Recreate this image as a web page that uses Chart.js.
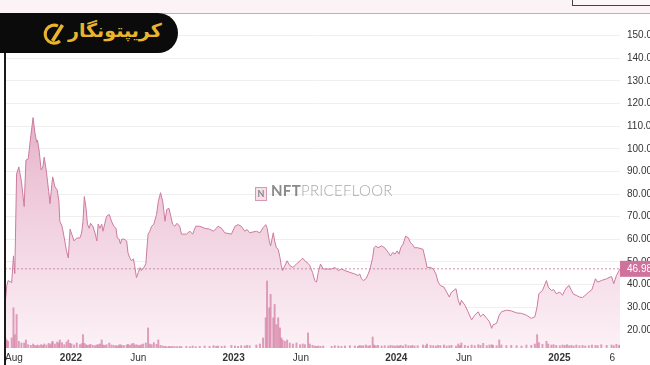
<!DOCTYPE html>
<html>
<head>
<meta charset="utf-8">
<script src="https://cdn.jsdelivr.net/npm/chart.js@4"></script>
<style>
html,body{margin:0;padding:0;background:#fff;}
#wrap{position:relative;width:650px;height:365px;overflow:hidden;}
#chart{position:absolute;left:0;top:0;}
.strip{position:absolute;left:0;top:0;width:650px;height:13px;background:#fcf3f7;border-bottom:1px solid #b9b3b6;}
.box{position:absolute;left:572px;top:-3px;width:80px;height:7px;border:1px solid #444;background:#fdf6f9;}
.edge{position:absolute;left:4px;top:50px;width:2px;height:315px;background:#1a1a1a;}
.banner{position:absolute;left:0;top:13px;width:178px;height:40px;background:#0b0b0b;border-radius:0 20px 20px 0;}
.brand{position:absolute;left:68px;top:6px;font:bold 19px "DejaVu Sans",sans-serif;color:#e9b52e;direction:rtl;white-space:nowrap;}
.icon{position:absolute;left:43px;top:8px;}
.wm{position:absolute;left:255px;top:181px;font:300 15px Lato,sans-serif;color:#a9a9a9;letter-spacing:0.3px;white-space:nowrap;}
.wm b{font-weight:700;color:#8a8a8a;}
.wm .logo{display:inline-block;width:10px;height:12px;border:1px solid #d59ab4;background:#f6e1ea;color:#888;font:bold 9px Lato,sans-serif;text-align:center;line-height:12px;margin-right:4px;vertical-align:-1px;}
</style>
</head>
<body>
<div id="wrap">
  <canvas id="chart" width="650" height="365"></canvas>
  <div class="strip"><div class="box"></div></div>
  <div class="edge"></div>
  <div class="banner">
    <svg class="icon" width="24" height="26" viewBox="0 0 24 26">
      <path d="M15 5 A9 9 0 1 0 17 20" fill="none" stroke="#e9b52e" stroke-width="3"/>
      <path d="M8 19 L18 3 L21 5 L11 21 Z" fill="#e9b52e"/>
    </svg>
    <div class="brand">کریپتونگار</div>
  </div>
  <div class="wm"><span class="logo">N</span><b>NFT</b>PRICEFLOOR</div>
</div>
<script>
const dates = [
  '2021-08-07','2021-08-10','2021-08-13','2021-08-21','2021-08-25','2021-08-28','2021-09-01','2021-09-06','2021-09-12','2021-09-18',
  '2021-09-22','2021-09-27','2021-10-03','2021-10-08','2021-10-12','2021-10-16','2021-10-18','2021-10-22','2021-10-26','2021-10-30',
  '2021-11-02','2021-11-07','2021-11-12','2021-11-15','2021-11-19','2021-11-21','2021-11-26','2021-12-01','2021-12-05','2021-12-07',
  '2021-12-12','2021-12-17','2021-12-22','2021-12-26','2021-12-30',
  '2022-01-02','2022-01-08','2022-01-14','2022-01-21','2022-01-25','2022-01-28','2022-01-31','2022-02-04','2022-02-07','2022-02-11',
  '2022-02-14','2022-02-19','2022-02-24','2022-02-28','2022-03-03','2022-03-07','2022-03-11','2022-03-14','2022-03-18','2022-03-22',
  '2022-03-28','2022-04-02','2022-04-07','2022-04-12','2022-04-15','2022-04-19','2022-04-22','2022-04-25','2022-04-30','2022-05-06',
  '2022-05-09','2022-05-13','2022-05-17','2022-05-21','2022-05-24','2022-05-28','2022-06-01','2022-06-05','2022-06-08','2022-06-12',
  '2022-06-18','2022-06-23','2022-06-27','2022-07-01','2022-07-06','2022-07-12','2022-07-16','2022-07-21','2022-07-26','2022-07-31',
  '2022-08-04','2022-08-09','2022-08-13','2022-08-17','2022-08-22','2022-08-27','2022-09-02','2022-09-06','2022-09-17','2022-09-25',
  '2022-10-01','2022-10-08','2022-10-17','2022-10-28','2022-11-08','2022-11-17','2022-11-23','2022-11-27','2022-12-05','2022-12-12',
  '2022-12-27',
  '2023-01-04','2023-01-11','2023-01-18','2023-01-26','2023-01-31','2023-02-06','2023-02-21','2023-03-01','2023-03-08','2023-03-14',
  '2023-03-17','2023-03-22','2023-03-25','2023-03-31','2023-04-03','2023-04-07','2023-04-11','2023-04-15','2023-04-18','2023-04-21',
  '2023-04-26','2023-05-01','2023-05-07','2023-05-14','2023-05-22','2023-05-30','2023-06-05','2023-06-10','2023-06-17','2023-06-21',
  '2023-06-27','2023-07-02','2023-07-06','2023-07-10','2023-07-15','2023-07-21','2023-08-09','2023-08-16','2023-08-24','2023-08-31',
  '2023-09-08','2023-09-19','2023-09-30','2023-10-07','2023-10-11','2023-10-15','2023-10-19','2023-10-25','2023-10-30','2023-11-03',
  '2023-11-09','2023-11-12','2023-11-16','2023-11-21','2023-11-29','2023-12-06','2023-12-14','2023-12-19','2023-12-24','2023-12-29',
  '2024-01-03','2024-01-07','2024-01-11','2024-01-16','2024-01-22','2024-01-28','2024-02-02','2024-02-06','2024-02-11','2024-02-18',
  '2024-03-01','2024-03-07','2024-03-10','2024-03-18','2024-03-24','2024-03-30','2024-04-04','2024-04-09','2024-04-17','2024-04-23',
  '2024-04-29','2024-05-04','2024-05-14','2024-05-19','2024-05-23','2024-05-26','2024-06-03','2024-06-10','2024-06-18','2024-06-25',
  '2024-07-03','2024-07-08','2024-07-14','2024-07-22','2024-07-28','2024-08-02','2024-08-05','2024-08-13','2024-08-19','2024-08-24',
  '2024-09-04','2024-09-15','2024-09-27','2024-10-08','2024-10-19','2024-10-30','2024-11-07','2024-11-12','2024-11-16','2024-11-24',
  '2024-12-03','2024-12-07','2024-12-14','2024-12-19','2024-12-25',
  '2025-01-02','2025-01-08','2025-01-13','2025-01-18','2025-01-23','2025-01-28','2025-02-02','2025-02-08','2025-02-15','2025-02-22',
  '2025-02-28','2025-03-08','2025-03-15','2025-03-23','2025-03-28','2025-04-05','2025-04-17','2025-04-28','2025-05-03','2025-05-09',
  '2025-05-15','2025-05-17'
];

const floorPrice = [
  33.1,39.6,41.8,40.9,52.7,44.9,88.9,92.0,85.4,74.5,
  95.0,95.5,105.9,113.8,107.3,102.9,103.8,98.5,90.7,92.0,
  96.3,89.8,81.1,75.8,84.1,87.6,83.2,81.9,76.7,68.0,
  65.8,60.6,54.9,51.8,64.5,
  62.8,59.3,60.6,60.6,62.8,68.0,78.9,73.7,66.7,64.9,
  67.1,65.8,62.8,59.3,66.7,64.9,66.7,63.6,67.1,70.2,
  71.0,68.0,65.8,64.9,60.6,60.1,58.0,60.1,60.1,59.3,
  54.0,51.8,50.5,51.4,48.4,43.1,45.3,47.5,46.2,47.0,
  49.2,62.3,63.6,65.8,66.7,71.0,76.7,80.6,76.7,68.0,
  73.2,73.7,70.2,66.7,65.8,67.1,65.8,62.3,62.3,63.6,
  62.3,65.8,65.8,64.9,64.5,63.6,64.9,65.8,64.9,62.9,
  62.3,
  65.8,66.5,65.8,63.6,64.4,62.9,63.6,62.9,65.1,66.5,
  65.1,59.3,57.1,62.9,59.3,56.3,55.6,52.0,48.4,46.2,
  48.4,50.5,48.4,47.6,49.1,50.5,51.7,50.5,49.4,48.4,
  45.4,41.8,41.1,45.4,49.1,46.9,46.9,47.6,46.2,46.9,
  46.2,45.4,44.7,44.0,44.7,42.6,41.8,42.6,44.7,46.9,
  52.0,56.3,57.1,56.3,57.1,56.3,54.2,52.7,54.2,53.5,
  54.9,53.5,56.3,57.8,61.4,60.7,58.5,57.8,56.3,56.3,
  55.6,50.5,47.6,47.6,46.9,44.7,41.1,39.6,38.9,36.7,
  34.5,36.7,38.2,33.1,30.9,33.1,30.9,28.0,24.4,26.5,
  28.0,25.8,27.0,25.1,23.6,20.7,22.2,22.9,26.5,28.0,
  28.7,28.4,27.5,27.3,26.5,25.1,25.8,30.2,36.0,37.4,
  41.8,38.9,37.4,37.8,36.0,
  36.7,35.3,37.4,38.9,39.6,37.4,35.7,35.3,34.5,34.3,
  35.3,36.7,37.8,42.6,41.1,41.8,42.6,43.6,40.4,44.0,
  46.2,46.98
];

const volume = [
  3,2.4,2,3,12,4,10,2,1.5,1.5,
  2.4,1,0.8,1.2,0.8,0.6,0.9,0.7,1,0.8,
  1.2,0.9,1.4,1,1.6,2,1.2,1.8,1.5,2.4,
  1.6,1,1.8,2.4,1.4,
  1.2,0.9,1.5,1,1.3,4,1.4,1,0.8,0.9,
  1.1,0.8,0.7,0.9,1,1.2,2.4,0.9,0.8,1,
  1.5,0.9,0.8,0.7,0.6,0.9,1,0.8,0.7,0.9,
  1.1,0.8,1.2,1.4,0.9,1,0.8,0.7,1,1.2,
  1.5,6,1.2,1,1.6,1.1,2.4,0.8,0.6,0.5,
  0.4,0.5,0.4,0.5,0.4,0.4,0.5,0.4,0.5,0.4,
  0.6,0.4,0.5,0.6,0.5,0.7,0.5,0.6,0.5,0.6,
  0.8,
  0.6,0.5,0.7,0.6,0.8,0.7,0.9,1.2,3,9,
  20,12,16,9,13,7,9,6,3,2.4,
  2,2.4,1.5,1.2,1.5,1,1.2,1,4.5,1.2,
  0.8,0.6,0.5,0.6,0.5,0.6,0.5,0.7,0.6,0.5,
  0.6,0.7,0.6,0.5,0.8,0.6,0.7,0.9,0.6,0.7,
  3.3,0.9,0.7,0.8,0.6,0.7,0.6,0.8,0.7,0.6,
  0.7,0.6,0.8,0.6,1,0.7,0.6,0.8,0.6,0.7,
  0.9,0.7,1.2,0.8,0.7,0.6,0.8,0.7,0.9,0.6,
  0.7,0.8,0.6,1.2,0.7,1.5,0.8,0.6,0.9,0.7,
  1,0.8,1.4,0.7,0.9,1,0.8,0.7,2.4,0.9,
  0.7,0.8,0.7,0.6,0.9,0.8,1.2,4,1.6,1.1,
  2,1.2,0.9,1,0.8,
  0.7,0.9,0.8,1,0.7,0.8,0.6,0.9,0.7,0.8,
  0.6,0.7,0.9,0.8,0.7,1,0.8,0.9,0.7,1.1,
  0.8,0.9
];

const yTicks = [20,30,40,50,60,70,80,90,100,110,120,130,140,150];
const xTickDates = ['2021-08-06','2022-01-01','2022-06-01','2023-01-01','2023-06-01','2024-01-01','2024-06-01','2025-01-01','2025-05-06'];
const xTickLabels = ['Aug','2022','Jun','2023','Jun','2024','Jun','2025','6'];
const xTickBold = [false,true,false,true,false,true,false,true,false];
const lastPrice = 46.98;

const DAY = 86400000;
const base = Date.UTC(2021, 7, 1);
function toDay(s){
  const [y, m, d] = s.split('-').map(Number);
  return (Date.UTC(y, m - 1, d) - base) / DAY;
}

const lastPricePlugin = {
  id: 'lastPrice',
  afterDatasetsDraw(chart){
    const {ctx, chartArea, scales} = chart;
    const y = scales.y.getPixelForValue(lastPrice);
    ctx.save();
    ctx.strokeStyle = 'rgba(196,120,150,0.8)';
    ctx.lineWidth = 1;
    ctx.setLineDash([2, 2]);
    ctx.beginPath();
    ctx.moveTo(chartArea.left, y);
    ctx.lineTo(chartArea.right, y);
    ctx.stroke();
    ctx.setLineDash([]);
    ctx.fillStyle = '#d0739c';
    ctx.fillRect(chartArea.right, y - 8, chart.width - chartArea.right, 16);
    ctx.fillStyle = '#fff';
    ctx.font = '10px "Liberation Sans", Arial, sans-serif';
    ctx.textBaseline = 'middle';
    ctx.fillText(lastPrice.toFixed(2), chartArea.right + 7, y + 0.5);
    ctx.restore();
  }
};

const ctx = document.getElementById('chart').getContext('2d');
new Chart(ctx, {
  data: {
    datasets: [{
      type: 'bar',
      data: dates.map((d, i) => ({x: toDay(d), y: volume[i]})),
      yAxisID: 'yv',
      backgroundColor: 'rgba(214,128,165,0.75)',
      barThickness: 1.3,
      order: 0
    }, {
      type: 'line',
      data: dates.map((d, i) => ({x: toDay(d), y: floorPrice[i]})),
      yAxisID: 'y',
      borderColor: '#cc7b9f',
      borderWidth: 1,
      pointRadius: 0,
      tension: 0,
      fill: 'start',
      backgroundColor: (c) => {
        const area = c.chart.chartArea;
        if(!area) return 'rgba(230,180,200,0.5)';
        const g = c.chart.ctx.createLinearGradient(0, area.top, 0, area.bottom);
        g.addColorStop(0, '#d98db0');
        g.addColorStop(0.5, '#edc6d7');
        g.addColorStop(1, '#fcf1f6');
        return g;
      },
      order: 1
    }]
  },
  options: {
    responsive: false,
    animation: false,
    layout: { padding: { left: 5, top: 9, right: 0, bottom: 0 } },
    plugins: { legend: { display: false }, tooltip: { enabled: false } },
    scales: {
      x: {
        type: 'linear',
        offset: false,
        min: toDay('2021-08-06'),
        max: toDay('2025-05-17'),
        grid: { display: false, drawTicks: false },
        border: { display: false },
        afterFit: (s) => { s.height = 17; },
        afterBuildTicks: (s) => { s.ticks = xTickDates.map(d => ({value: toDay(d)})); },
        ticks: {
          autoSkip: false,
          maxRotation: 0,
          padding: 4,
          align: 'inner',
          color: '#333',
          font: (c) => ({family: '"Liberation Sans", Arial, sans-serif', size: 10, weight: xTickBold[c.index] ? 'bold' : 'normal'}),
          callback: (v, i) => xTickLabels[i]
        }
      },
      y: {
        position: 'right',
        min: 12,
        max: 160,
        grid: { color: '#f0eeef', drawTicks: false },
        border: { display: false },
        afterFit: (s) => { s.width = 30; },
        afterBuildTicks: (s) => { s.ticks = yTicks.map(v => ({value: v})); },
        ticks: {
          padding: 7,
          color: '#333',
          font: { family: '"Liberation Sans", Arial, sans-serif', size: 10 },
          callback: (v) => Number(v).toFixed(2)
        }
      },
      yv: {
        display: false,
        min: 0,
        max: 100
      }
    }
  },
  plugins: [lastPricePlugin]
});
</script>
</body>
</html>
